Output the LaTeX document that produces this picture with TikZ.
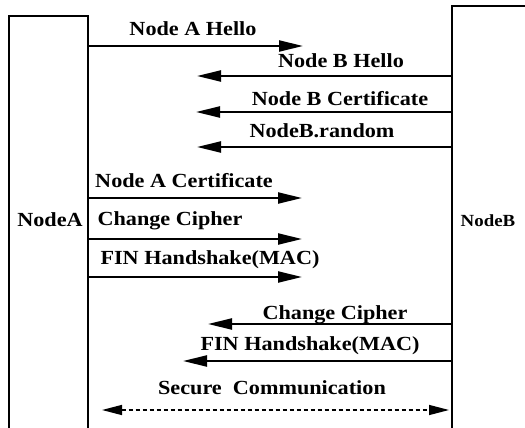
\documentclass[tikz,border=0pt]{standalone}
\usepackage{fontspec}
\usepackage{graphicx}
\setmainfont{Liberation Serif}
\usetikzlibrary{arrows.meta}
\newcommand{\widetxt}[1]{\scalebox{1.11}[1]{#1}}
\begin{document}
\begin{tikzpicture}[x=1pt,y=-1pt,
  boxline/.style={line width=1.8pt},
  msg/.style={line width=2.2pt,-{Triangle[length=24pt,width=11pt]}},
  secure/.style={line width=1.4pt,dash pattern=on 4pt off 3pt,{Triangle[length=20pt,width=10pt]}-{Triangle[length=20pt,width=10pt]}},
  lbl/.style={anchor=base,inner sep=0pt,font=\fontsize{20}{22}\selectfont\bfseries},
  side/.style={anchor=base,inner sep=0pt,font=\fontsize{20}{22}\selectfont\bfseries}]
\useasboundingbox (0,0) rectangle (525,428);
% boxes
\coordinate (Abl) at (9,428);
\coordinate (Atl) at (9,16);
\coordinate (Atr) at (88,16);
\coordinate (Abr) at (88,428);
\coordinate (Bbl) at (452,428);
\coordinate (Btl) at (452,6);
\coordinate (Btr) at (525,6);
\draw[boxline] (Abl) -- (Atl) -- (Atr) -- (Abr);
\draw[boxline] (Bbl) -- (Btl) -- (Btr);
\node[side] (nA) at (50,226) {\widetxt{NodeA}};
\node[side,font=\fontsize{17}{19}\selectfont\bfseries] (nB) at (488,226) {\widetxt{NodeB}};
% message end points
\coordinate (a1) at (88,46);   \coordinate (b1) at (303,46);
\coordinate (a2) at (452,76);  \coordinate (b2) at (197,76);
\coordinate (a3) at (452,112); \coordinate (b3) at (196,112);
\coordinate (a4) at (452,147); \coordinate (b4) at (197,147);
\coordinate (a5) at (88,198);  \coordinate (b5) at (302,198);
\coordinate (a6) at (88,239);  \coordinate (b6) at (302,239);
\coordinate (a7) at (88,277);  \coordinate (b7) at (302,277);
\coordinate (a8) at (452,324); \coordinate (b8) at (208,324);
\coordinate (a9) at (452,361); \coordinate (b9) at (183,361);
\coordinate (s1) at (102,410); \coordinate (s2) at (449,410);
\draw[msg] (a1) -- (b1);
\draw[msg] (a2) -- (b2);
\draw[msg] (a3) -- (b3);
\draw[msg] (a4) -- (b4);
\draw[msg] (a5) -- (b5);
\draw[msg] (a6) -- (b6);
\draw[msg] (a7) -- (b7);
\draw[msg] (a8) -- (b8);
\draw[msg] (a9) -- (b9);
\draw[secure] (s1) -- (s2);
% labels
\node[lbl] (l1) at (193,36) {\widetxt{Node A Hello}};
\node[lbl] (l2) at (341,67) {\widetxt{Node B Hello}};
\node[lbl] (l3) at (340,105) {\widetxt{Node B Certificate}};
\node[lbl] (l4) at (322,137) {\widetxt{NodeB.random}};
\node[lbl] (l5) at (184,187) {\widetxt{Node A Certificate}};
\node[lbl] (l6) at (170,225) {\widetxt{Change Cipher}};
\node[lbl] (l7) at (210,264) {\widetxt{FIN Handshake(MAC)}};
\node[lbl] (l8) at (335,319) {\widetxt{Change Cipher}};
\node[lbl] (l9) at (310,350) {\widetxt{FIN Handshake(MAC)}};
\node[lbl] (l10) at (272,394) {\widetxt{Secure\ \ Communication}};
\end{tikzpicture}
\end{document}
